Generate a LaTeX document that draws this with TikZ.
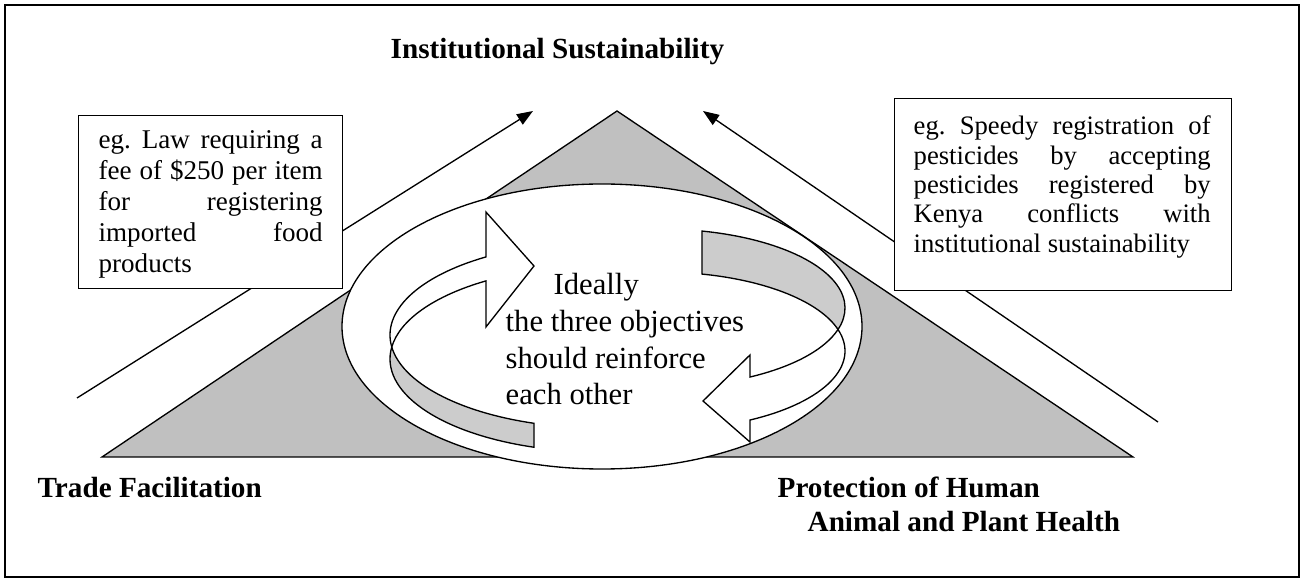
\documentclass[tikz,border=0pt]{standalone}
\usepackage{fontspec}
\setmainfont{Liberation Serif}
\usetikzlibrary{arrows.meta}
\frenchspacing

\definecolor{trigray}{HTML}{C0C0C0}
\definecolor{bandgray}{HTML}{CCCCCC}

\begin{document}
\begin{tikzpicture}[x=0.75pt, y=-0.75pt, line width=1pt,
	corner/.style={anchor=base west, inner sep=0pt, font=\fontsize{21.9}{25.5}\selectfont\bfseries},
	note/.style={anchor=base west, inner sep=0pt},
	notebox/.style={draw, fill=white, anchor=north west, inner sep=0pt},
	>={Triangle[length=12pt, width=9pt]}]
	\useasboundingbox (0,0) rectangle (1303,580);
	\draw [line width=1.2pt] (5,5) rectangle (1299,577);
	
	\draw [fill=trigray] (617,111) -- (1133,457) -- (102,457) -- cycle;
	
	\coordinate (tradeend) at (77,398);
	\coordinate (insttipl) at (533,111);
	\coordinate (healthend) at (1158,422);
	\coordinate (insttipr) at (703,111);
	\draw [->] (tradeend) -- (insttipl);
	\draw [->] (healthend) -- (insttipr);
	
	\node (lawbox) [notebox, minimum width=198pt, minimum height=129.75pt] at (78,115) {};
	\node (lawtext) [note, font=\fontsize{20.3}{23.2}\selectfont] at (98,149) {\parbox[t]{168pt}{%
		\makebox[\linewidth][s]{eg. Law requiring a}\\
		\makebox[\linewidth][s]{fee of \$250 per item}\\
		\makebox[\linewidth][s]{for registering}\\
		\makebox[\linewidth][s]{imported food}\\
		products}};
	
	\node (pestbox) [notebox, minimum width=252.75pt, minimum height=144pt] at (894,98) {};
	\node (pesttext) [note, font=\fontsize{20}{22}\selectfont] at (913,135) {\parbox[t]{222.75pt}{%
		\makebox[\linewidth][s]{eg. Speedy registration of}\\
		\makebox[\linewidth][s]{pesticides by accepting}\\
		\makebox[\linewidth][s]{pesticides registered by}\\
		\makebox[\linewidth][s]{Kenya conflicts with}\\
		institutional sustainability}};
	
	\draw [fill=white] (602,326.5) ellipse [x radius=260, y radius=142.5];
	
	% left curved arrow, back then front
	\draw [fill=bandgray] (534.06,423.3) arc [start angle=108.3, end angle=172.6, x radius=210, y radius=93]
		arc [start angle=187.4, end angle=108.3, x radius=210, y radius=93] -- cycle;
	\draw [fill=white] (391.75,347) arc [start angle=172.6, end angle=237.1, x radius=210, y radius=93]
		-- (485.93,212) -- (534,266) -- (485.93,327) -- (485.93,280.92)
		arc [start angle=237.1, end angle=187.4, x radius=210, y radius=93] -- cycle;
	
	% right curved arrow, back then front
	\draw [fill=bandgray] (701.94,231.06) arc [start angle=-76.9, end angle=15.8, x radius=185, y radius=79]
		arc [start angle=-15.8, end angle=-76.9, x radius=185, y radius=79] -- cycle;
	\draw [fill=white] (838,329.51) arc [start angle=15.8, end angle=60.9, x radius=185, y radius=79]
		-- (749.97,355) -- (703,401) -- (749.97,442) -- (749.97,420.03)
		arc [start angle=60.9, end angle=-15.8, x radius=185, y radius=79] -- cycle;
	
	\node (ideal) [note, font=\fontsize{23}{27.5}\selectfont] at (505,295) {\parbox[t]{200pt}{%
		\hspace*{36pt}Ideally\\
		the three objectives\\
		should reinforce\\
		each other}};
	
	\node (inst) [corner] at (390,59) {Institutional Sustainability};
	\node (trade) [corner] at (37,498) {Trade Facilitation};
	\node (health) [corner] at (777,498) {\parbox[t]{260pt}{Protection of Human\\
		\hspace*{22.5pt}Animal and Plant Health}};
\end{tikzpicture}
\end{document}
